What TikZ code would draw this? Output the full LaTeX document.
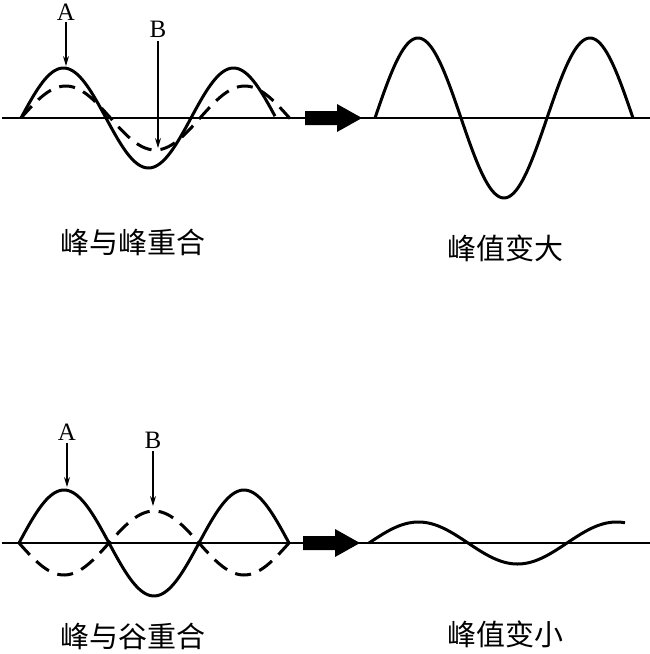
\documentclass[tikz,border=0pt]{standalone}
\usepackage{fontspec}
\setmainfont{Liberation Serif}
\newfontfamily\cjk{Noto Sans CJK SC}
\usetikzlibrary{arrows.meta}
\begin{document}
\begin{tikzpicture}[x=1pt,y=-1pt,
  axisline/.style={line width=1.8pt},
  wave/.style={line width=3pt,line join=round},
  dwave/.style={line width=3pt,dash pattern=on 16pt off 9pt},
  lab/.style={font=\fontsize{25}{25}\selectfont,inner sep=0pt},
  captxt/.style={font=\cjk\fontsize{29}{29}\selectfont,inner sep=0pt},
  ptr/.style={line width=1.2pt,-{Stealth[length=10pt,width=6pt]}},
  fatarrow/.style={fill=black,draw=none}]
\useasboundingbox (0,0) rectangle (650,654);
% ---------- top panel ----------
\draw[axisline] (2,118) -- (650,118);
\draw[wave] plot[domain=21:275,samples=120] (\x,{118-50*sin((\x-21)/170*360)});
\draw[dwave] plot[domain=21:290,samples=120] (\x,{118-32*sin((\x-21)/179*360)});
\draw[wave] plot[domain=375:633,samples=120] (\x,{118-80*sin((\x-375)/172*360)});
\fill[fatarrow] (305,111) -- (337,111) -- (337,104) -- (362,118) -- (337,132) -- (337,125) -- (305,125) -- cycle;
\node[lab] (A1) at (66,12) {A};
\coordinate (A1t) at (66,66);
\draw[ptr] (A1.south) ++(0,2) -- (A1t);
\node[lab] (B1) at (158,29) {B};
\coordinate (B1t) at (158,148);
\draw[ptr] (B1.south) ++(0,4) -- (B1t);
\node[captxt] (c1) at (133,242) {峰与峰重合};
\node[captxt] (c2) at (505,248) {峰值变大};
% ---------- bottom panel ----------
\draw[axisline] (2,543) -- (650,543);
\draw[wave] plot[domain=19:289,samples=120] (\x,{543-53*sin((\x-19)/180*360)});
\draw[dwave] plot[domain=19:289,samples=120] (\x,{543+32*sin((\x-19)/180*360)});
\draw[wave] plot[domain=369:625,samples=120] (\x,{543-21*sin((\x-369)/198*360)});
\fill[fatarrow] (303,536) -- (335,536) -- (335,529) -- (360,543) -- (335,557) -- (335,550) -- (303,550) -- cycle;
\node[lab] (A2) at (67,432) {A};
\coordinate (A2t) at (67,487);
\draw[ptr] (A2.south) ++(0,3) -- (A2t);
\node[lab] (B2) at (153,440) {B};
\coordinate (B2t) at (153,506);
\draw[ptr] (B2.south) ++(0,3) -- (B2t);
\node[captxt] (c3) at (133,636) {峰与谷重合};
\node[captxt] (c4) at (505,634) {峰值变小};
\end{tikzpicture}
\end{document}
